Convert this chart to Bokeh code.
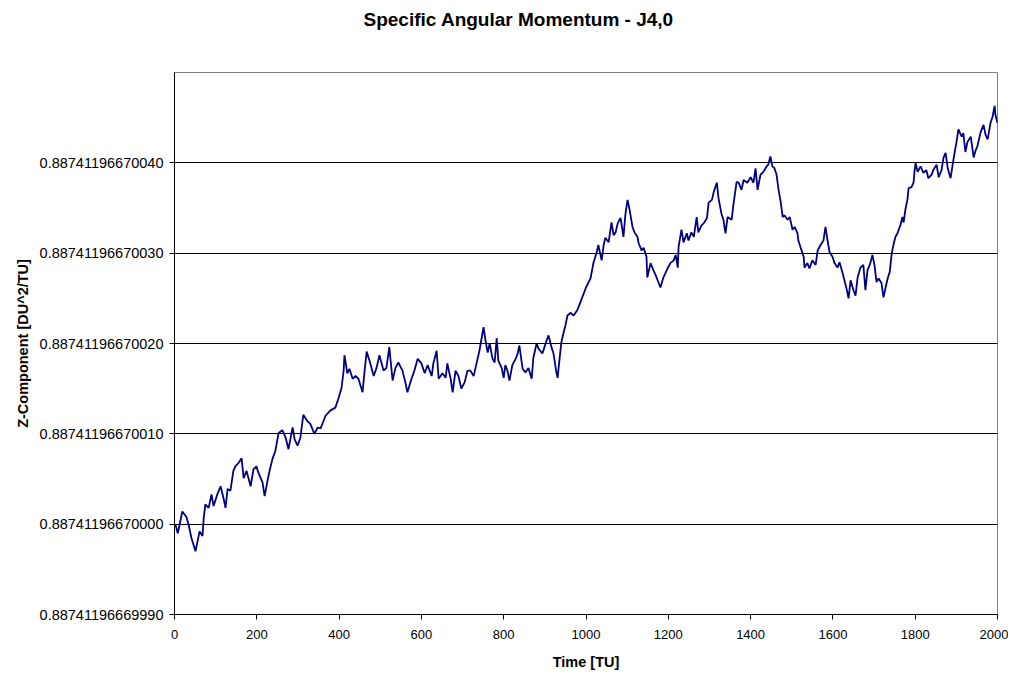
from bokeh.plotting import figure
from bokeh.models import Range1d, FixedTicker, Title
from bokeh.embed import file_html
from bokeh.resources import INLINE

# ---- data (z offset in units of 1e-13 from 0.88741196670000) ----
time_tu = [
    2, 8, 19, 29, 34, 41, 51, 56, 61, 68,
    71, 75, 83, 90, 95, 104, 112, 119, 124, 129,
    136, 143, 148, 156, 163, 168, 175, 185, 192, 199,
    204, 214, 219, 226, 231, 238, 245, 253, 262, 270,
    277, 287, 292, 299, 306, 313, 323, 330, 340, 348,
    355, 367, 379, 391, 399, 406, 411, 413, 420, 425,
    433, 440, 447, 457, 462, 467, 474, 484, 491, 498,
    508, 515, 522, 530, 537, 544, 554, 561, 566, 576,
    583, 591, 600, 608, 615, 625, 629, 637, 642, 651,
    659, 663, 671, 676, 683, 690, 697, 705, 712,
    719, 727, 734, 741, 751, 756, 761, 766, 773, 778,
    783, 787, 795, 800, 804, 809, 814, 821, 829, 834,
    838, 846, 853, 860, 868, 872, 880, 885, 894, 899,
    904, 909, 916, 921, 928, 931, 936, 940, 945, 950,
    955, 962, 970, 979, 990, 1000,
    1011, 1018, 1026, 1030, 1038, 1043, 1047, 1055, 1062, 1067,
    1072, 1077, 1084, 1091, 1096, 1101, 1106, 1113, 1118, 1125,
    1128, 1135, 1140, 1147, 1149, 1157, 1164, 1169, 1174, 1181,
    1188, 1193, 1198, 1205, 1213, 1218, 1223, 1225, 1232, 1237,
    1245, 1249, 1256, 1262, 1269, 1273, 1281, 1286, 1294, 1298,
    1306, 1310, 1318,
    1322, 1329, 1334, 1339, 1344, 1354, 1358, 1366, 1371, 1378,
    1383, 1392, 1400, 1407, 1412, 1417, 1424, 1431, 1439, 1443,
    1448, 1453, 1458, 1463, 1468, 1473, 1478, 1482, 1490, 1495,
    1502, 1507, 1514, 1516, 1521, 1529, 1531, 1538, 1543, 1550,
    1558, 1563, 1570, 1577, 1582, 1587, 1592, 1599, 1604, 1611,
    1616, 1623, 1628, 1633, 1638,
    1643, 1650, 1655, 1660, 1667, 1674, 1679, 1684, 1691, 1696,
    1701, 1706, 1711, 1718, 1723, 1728, 1733, 1738, 1743, 1748,
    1752, 1757, 1764, 1769, 1772, 1776, 1781, 1784, 1791, 1796,
    1798, 1801, 1806, 1813, 1820, 1827, 1832, 1840, 1844, 1852,
    1857, 1864, 1869, 1874, 1879, 1886, 1891, 1896, 1900, 1905,
    1913, 1917, 1922, 1927, 1935, 1942, 1947, 1951, 1959, 1966,
    1971, 1976, 1983, 1988, 1993, 1995, 2000,
]

z_offset = [
    0.00, -0.10, 0.14, 0.08, 0.00, -0.15, -0.30, -0.19, -0.08, -0.13,
    0.07, 0.22, 0.18, 0.33, 0.20, 0.33, 0.42, 0.29, 0.18, 0.39,
    0.37, 0.59, 0.64, 0.68, 0.73, 0.51, 0.59, 0.42, 0.61, 0.64,
    0.57, 0.46, 0.31, 0.48, 0.59, 0.72, 0.81, 1.01, 1.04, 0.96,
    0.83, 1.07, 0.94, 0.87, 0.96, 1.21, 1.14, 1.11, 1.00, 1.07,
    1.06, 1.20, 1.26, 1.29, 1.40, 1.51, 1.70, 1.87, 1.67, 1.72,
    1.61, 1.64, 1.61, 1.46, 1.70, 1.91, 1.81, 1.64, 1.73, 1.87,
    1.70, 1.73, 1.96, 1.59, 1.73, 1.79, 1.70, 1.57, 1.46, 1.61,
    1.70, 1.83, 1.78, 1.67, 1.76, 1.64, 1.78, 1.92, 1.61, 1.67,
    1.62, 1.78, 1.61, 1.46, 1.70, 1.64, 1.50, 1.57, 1.70,
    1.70, 1.64, 1.78, 1.92, 2.18, 2.03, 1.90, 2.00, 1.83, 1.79,
    2.06, 1.81, 1.73, 1.62, 1.76, 1.70, 1.59, 1.76, 1.83, 1.89,
    1.98, 1.72, 1.68, 1.73, 1.61, 1.84, 2.00, 1.94, 1.89, 1.96,
    2.03, 2.09, 1.96, 1.89, 1.68, 1.62, 1.84, 2.01, 2.11, 2.20,
    2.31, 2.34, 2.31, 2.37, 2.50, 2.62,
    2.72, 2.89, 3.01, 3.09, 2.92, 3.09, 3.17, 3.12, 3.34, 3.20,
    3.23, 3.33, 3.39, 3.18, 3.44, 3.59, 3.48, 3.29, 3.23, 3.18,
    3.11, 3.03, 3.06, 2.96, 2.73, 2.89, 2.81, 2.76, 2.70, 2.62,
    2.73, 2.78, 2.83, 2.89, 2.92, 2.98, 2.84, 3.07, 3.26, 3.12,
    3.22, 3.14, 3.23, 3.18, 3.40, 3.23, 3.31, 3.33, 3.39, 3.56,
    3.59, 3.67, 3.78,
    3.61, 3.44, 3.37, 3.22, 3.40, 3.37, 3.53, 3.79, 3.78, 3.70,
    3.81, 3.78, 3.84, 3.78, 3.94, 3.70, 3.87, 3.90, 3.96, 3.98,
    4.07, 3.96, 3.94, 3.87, 3.70, 3.57, 3.40, 3.42, 3.37, 3.40,
    3.26, 3.29, 3.22, 3.14, 3.07, 2.96, 2.84, 2.89, 2.83, 2.92,
    2.87, 3.03, 3.09, 3.14, 3.29, 3.14, 3.01, 2.96, 2.89, 2.84,
    2.90, 2.79, 2.70, 2.61, 2.50,
    2.70, 2.59, 2.53, 2.73, 2.84, 2.87, 2.59, 2.81, 2.89, 2.98,
    2.87, 2.68, 2.72, 2.67, 2.51, 2.62, 2.72, 2.79, 3.00, 3.11,
    3.18, 3.22, 3.31, 3.40, 3.34, 3.48, 3.59, 3.72, 3.73, 3.78,
    3.89, 4.00, 3.90, 3.96, 3.89, 3.92, 3.83, 3.87, 3.92, 3.98,
    3.84, 3.92, 4.06, 4.11, 3.94, 3.83, 3.98, 4.12, 4.22, 4.37,
    4.29, 4.33, 4.12, 4.23, 4.29, 4.06, 4.14, 4.18, 4.34, 4.42,
    4.31, 4.26, 4.44, 4.51, 4.63, 4.53, 4.44,
]

x_ticks = [0, 200, 400, 600, 800, 1000, 1200, 1400, 1600, 1800, 2000]
y_ticks = [-1, 0, 1, 2, 3, 4]
y_tick_labels = [
    "0.88741196669990",
    "0.88741196670000",
    "0.88741196670010",
    "0.88741196670020",
    "0.88741196670030",
    "0.88741196670040",
]

assert len(time_tu) == len(z_offset)

FONT = "Liberation Sans"

p = figure(width=1008, height=673, output_backend="svg", toolbar_location=None,
           x_range=Range1d(0, 2000), y_range=Range1d(-1, 5),
           min_border_left=174, min_border_right=11,
           min_border_top=72, min_border_bottom=59,
           background_fill_color="white", border_fill_color="white")

p.title.text = "Specific Angular Momentum - J4,0"
p.title.text_font = FONT
p.title.text_font_size = "19px"
p.title.text_font_style = "bold"
p.title.text_color = "black"
p.title.align = "left"
p.title.offset = 189
p.title.vertical_align = "top"
p.title.standoff = 12

# blank spacer between the title and the plot area
p.add_layout(Title(text=" ", text_font=FONT, text_font_size="10px", standoff=22), "above")

p.outline_line_color = "#808080"
p.outline_line_width = 1

p.xgrid.grid_line_color = None
p.ygrid.grid_line_color = "black"
p.ygrid.grid_line_width = 1

p.xaxis.ticker = FixedTicker(ticks=x_ticks)
p.yaxis.ticker = FixedTicker(ticks=y_ticks)
p.yaxis.major_label_overrides = {t: lab for t, lab in zip(y_ticks, y_tick_labels)}

for ax in (p.xaxis, p.yaxis):
    ax.axis_line_color = "black"
    ax.major_tick_line_color = "black"
    ax.major_tick_in = 0
    ax.major_tick_out = 5
    ax.minor_tick_line_color = None
    ax.major_label_text_font = FONT
    ax.major_label_text_color = "black"
    ax.axis_label_text_font = FONT
    ax.axis_label_text_font_style = "bold"
    ax.axis_label_text_font_size = "14.5px"
    ax.axis_label_text_color = "black"

p.xaxis.major_label_text_font_size = "13px"
p.yaxis.major_label_text_font_size = "14.5px"
p.xaxis.major_label_standoff = 10
p.yaxis.major_label_standoff = 6
p.xaxis.axis_label = "Time [TU]"
p.yaxis.axis_label = "Z-Component [DU^2/TU]"
p.xaxis.axis_label_standoff = 12
p.yaxis.axis_label_standoff = 6

p.line(time_tu, z_offset, line_color="#000080", line_width=1.8)

open("out.html", "w").write(file_html(p, INLINE))
